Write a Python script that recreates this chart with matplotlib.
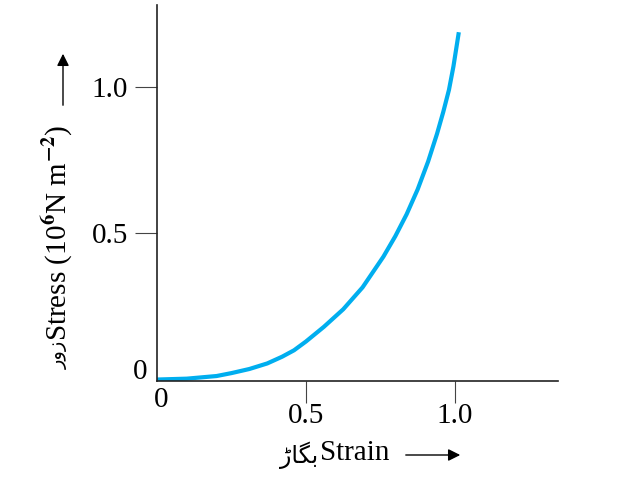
import numpy as np
import matplotlib
matplotlib.use('Agg')
import matplotlib.pyplot as plt
from matplotlib.patches import FancyArrowPatch

plt.rcParams['font.family'] = ['Liberation Serif', 'DejaVu Sans']
plt.rcParams['mathtext.fontset'] = 'stix'

# values
strain = [0, 0.10, 0.20, 0.25, 0.31, 0.37, 0.42, 0.46, 0.50, 0.56, 0.625, 0.69,
          0.76, 0.80, 0.838, 0.875, 0.91, 0.94, 0.961, 0.98, 0.995, 1.012]
stress = [0, 0.003, 0.012, 0.022, 0.036, 0.055, 0.078, 0.10, 0.13, 0.18, 0.24, 0.315,
          0.42, 0.49, 0.565, 0.65, 0.745, 0.84, 0.915, 0.99, 1.07, 1.18]

xticks = [0.5, 1.0]
yticks = [0.5, 1.0]
xlabel_ur = '\uFB8C\uFE8E\uFB95\uFE91'   # بگاڑ in display order
ylabel_ur = '\u0631\u0648\u0632'         # زور in display order
xlabel = 'Strain'
ylabel = 'Stress (10$^{\\mathbf{6}}$N m$^{\\mathbf{-2}}$)'

W, H = 617, 480
fig = plt.figure(figsize=(W / 100, H / 100), dpi=100)
ax = fig.add_axes([157 / W, 1 - 381 / H, (558 - 157) / W, (381 - 5) / H])

ax.plot(strain, stress, color='#00aeef', linewidth=3, solid_joinstyle='round')

ax.set_xlim(0, 1.346)
ax.set_ylim(-0.005, 1.28)
for s in ['top', 'right']:
    ax.spines[s].set_visible(False)
for s in ['left', 'bottom']:
    ax.spines[s].set_linewidth(1.2)
    ax.spines[s].set_color('#222222')

ax.set_xticks(xticks)
ax.set_xticklabels(['%.1f' % v for v in xticks])
ax.set_yticks(yticks)
ax.set_yticklabels(['%.1f' % v for v in yticks])
ax.tick_params(axis='x', direction='out', length=16, width=0.8, color='#444444',
               labelsize=21, pad=0)
ax.tick_params(axis='y', direction='out', length=16, width=0.8, color='#444444',
               labelsize=21, pad=5)

# zero labels
fig.text(140 / W, 1 - 372 / H, '0', fontsize=21, ha='center', va='center')
fig.text(161 / W, 1 - 400 / H, '0', fontsize=21, ha='center', va='center')

# x label: urdu + english + arrow
fig.text(318 / W, 1 - 455 / H, xlabel_ur, fontsize=17, family='DejaVu Sans',
         ha='right', va='center')
fig.text(320 / W, 1 - 453 / H, xlabel, fontsize=21, ha='left', va='center')
fig.patches.append(FancyArrowPatch(
    (403 / W, 1 - 455 / H), (463 / W, 1 - 455 / H), transform=fig.transFigure,
    arrowstyle='-|>', mutation_scale=18, color='black', linewidth=1))

# y label: urdu + english + arrow
fig.text(58 / W, 1 - 369 / H, ylabel_ur, fontsize=14, family='DejaVu Sans',
         rotation=90, ha='center', va='bottom')
fig.text(57 / W, 1 - 341 / H, ylabel, fontsize=21, rotation=90, ha='center', va='bottom')
fig.patches.append(FancyArrowPatch(
    (63 / W, 1 - 108 / H), (63 / W, 1 - 51 / H), transform=fig.transFigure,
    arrowstyle='-|>', mutation_scale=18, color='black', linewidth=1))

fig.savefig('out.png', dpi=100)
